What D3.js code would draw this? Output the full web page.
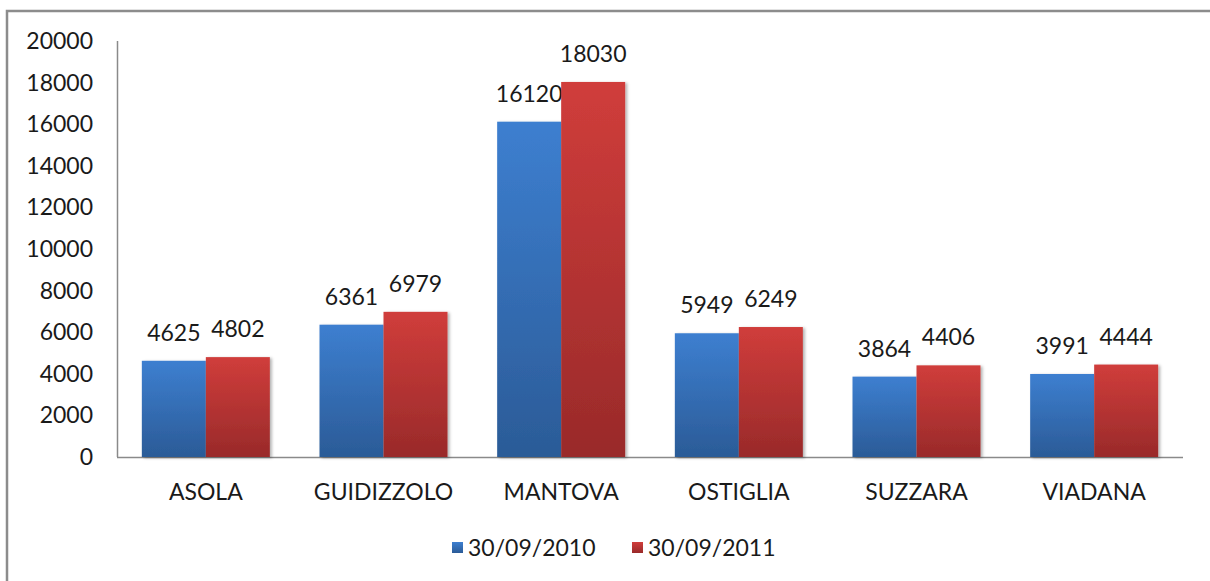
<!DOCTYPE html>
<html>
<head>
<meta charset="utf-8">
<script src="https://cdn.jsdelivr.net/npm/d3@7"></script>
<style>
  body { margin: 0; background: #fff; }
  text { font-family: Lato, "Open Sans", sans-serif; fill: #1a1a1a; }
</style>
</head>
<body>
<script>
var categories = ["ASOLA", "GUIDIZZOLO", "MANTOVA", "OSTIGLIA", "SUZZARA", "VIADANA"];
var series = ["30/09/2010", "30/09/2011"];
var values2010 = [4625, 6361, 16120, 5949, 3864, 3991];
var values2011 = [4802, 6979, 18030, 6249, 4406, 4444];
var yTicks = [0, 2000, 4000, 6000, 8000, 10000, 12000, 14000, 16000, 18000, 20000];

var width = 1210, height = 581;
var plot = {left: 117, right: 1183, top: 41, bottom: 457};

var svg = d3.select("body").append("svg")
    .attr("width", width)
    .attr("height", height);

var defs = svg.append("defs");
var grads = [["gBlue", "#3d7fd0", "#2b5b97"], ["gRed", "#d03d3b", "#992a2a"]];
grads.forEach(function(g) {
    var lg = defs.append("linearGradient").attr("id", g[0])
        .attr("x1", 0).attr("y1", 0).attr("x2", 0).attr("y2", 1);
    lg.append("stop").attr("offset", "0%").attr("stop-color", g[1]);
    lg.append("stop").attr("offset", "100%").attr("stop-color", g[2]);
});
var flt = defs.append("filter").attr("id", "shadow")
    .attr("x", "-10%").attr("y", "-10%").attr("width", "130%").attr("height", "130%");
flt.append("feDropShadow").attr("dx", 2).attr("dy", 1).attr("stdDeviation", 1.5)
    .attr("flood-color", "#000").attr("flood-opacity", 0.3);

// outer border (cut off on right/bottom)
svg.append("rect")
    .attr("x", 7).attr("y", 11)
    .attr("width", 1220).attr("height", 600)
    .attr("fill", "none").attr("stroke", "#8c8c8c").attr("stroke-width", 2.5);

var y = d3.scaleLinear().domain([0, 20000]).range([plot.bottom, plot.top]);
var x0 = d3.scaleBand().domain(categories).range([plot.left, plot.right]);
var barW = 64;
var fs = "23px";

// y axis labels
svg.append("g").selectAll("text")
    .data(yTicks).enter().append("text")
    .attr("x", 93)
    .attr("y", function(d) { return y(d); })
    .attr("dy", "0.35em")
    .attr("text-anchor", "end")
    .style("font-size", fs)
    .text(function(d) { return d; });

// axis lines
svg.append("line")
    .attr("x1", plot.left + 0.5).attr("x2", plot.left + 0.5)
    .attr("y1", plot.top).attr("y2", plot.bottom)
    .attr("stroke", "#8a8a8a").attr("stroke-width", 1.5);
svg.append("line")
    .attr("x1", plot.left).attr("x2", plot.right)
    .attr("y1", plot.bottom + 0.5).attr("y2", plot.bottom + 0.5)
    .attr("stroke", "#8a8a8a").attr("stroke-width", 1.5);

var allSeries = [values2010, values2011];
var fills = ["url(#gBlue)", "url(#gRed)"];

allSeries.forEach(function(vals, s) {
    var g = svg.append("g");
    g.selectAll("rect")
        .data(vals).enter().append("rect")
        .attr("x", function(d, i) { return x0(categories[i]) + x0.bandwidth() / 2 - barW + s * barW; })
        .attr("y", function(d) { return y(d); })
        .attr("width", barW)
        .attr("height", function(d) { return y(0) - y(d); })
        .attr("fill", fills[s])
        .attr("filter", "url(#shadow)");
    g.selectAll("text")
        .data(vals).enter().append("text")
        .attr("x", function(d, i) { return x0(categories[i]) + x0.bandwidth() / 2 - barW / 2 + s * barW; })
        .attr("y", function(d) { return y(d) - 20; })
        .attr("text-anchor", "middle")
        .style("font-size", fs)
        .text(function(d) { return d; });
});

// category labels
svg.append("g").selectAll("text")
    .data(categories).enter().append("text")
    .attr("x", function(d) { return x0(d) + x0.bandwidth() / 2; })
    .attr("y", 500)
    .attr("text-anchor", "middle")
    .style("font-size", fs)
    .text(function(d) { return d; });

// legend
var legendX = [452, 632];
series.forEach(function(name, s) {
    svg.append("rect")
        .attr("x", legendX[s]).attr("y", 542)
        .attr("width", 11).attr("height", 11)
        .attr("fill", fills[s]);
    svg.append("text")
        .attr("x", legendX[s] + 16).attr("y", 556)
        .style("font-size", fs)
        .text(name);
});
</script>
</body>
</html>
